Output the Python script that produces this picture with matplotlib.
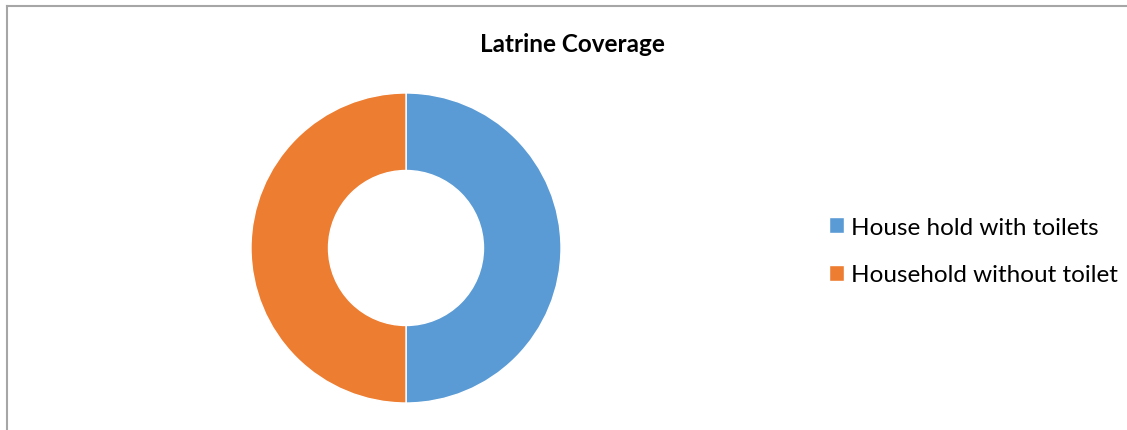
import matplotlib.pyplot as plt
from matplotlib.lines import Line2D

categories = ["House hold with toilets", "Household without toilet"]
values = [50, 50]
colors = ["#5B9BD5", "#ED7D31"]

W, H = 1127, 431
fig = plt.figure(figsize=(W / 100, H / 100), dpi=100)
plt.rcParams['font.family'] = ['Lato', 'DejaVu Sans']

# chart border (only top and left edges visible in the crop)
fig.add_artist(Line2D([7 / W, 1], [1 - 7 / H, 1 - 7 / H], color="#a6a6a6", lw=1.5))
fig.add_artist(Line2D([7 / W, 7 / W], [0, 1 - 7 / H], color="#a6a6a6", lw=1.5))

cx, cy, r = 406, H - 249, 155
ax = fig.add_axes([(cx - r) / W, (cy - r) / H, 2 * r / W, 2 * r / H])
wedges, _ = ax.pie(values, colors=colors, startangle=90, counterclock=False,
                   radius=1, wedgeprops=dict(width=0.5, edgecolor="white", linewidth=1))
ax.set_xlim(-1, 1)
ax.set_ylim(-1, 1)
ax.set_aspect("equal")

fig.text(572 / W, 1 - 45 / H, "Latrine Coverage", ha="center", va="center",
         fontsize=17.5, fontweight="bold", color="#000000")

fig.legend(wedges, categories, loc="center left", bbox_to_anchor=(812 / W, 1 - 252 / H),
           frameon=False, fontsize=17.5, handlelength=0.6, handleheight=0.6,
           handletextpad=0.3, labelspacing=1.1, borderpad=0.2)

fig.savefig("out.png", dpi=100)
